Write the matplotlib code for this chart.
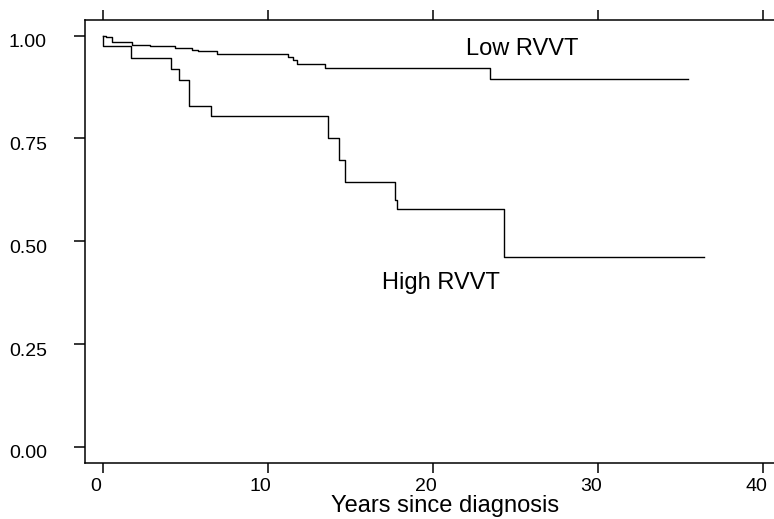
import matplotlib
matplotlib.use("Agg")
import matplotlib.pyplot as plt
import matplotlib.transforms as mtransforms

plt.rcParams['font.family'] = ['Liberation Sans', 'DejaVu Sans']

# Kaplan-Meier step data (years, survival)
low_time = [0, 0.2, 0.55, 1.76, 2.86, 4.38, 5.39, 5.77, 6.9, 11.2, 11.5, 11.75, 13.46, 23.46, 35.45]
low_surv = [1.0, 0.996, 0.985, 0.978, 0.974, 0.970, 0.966, 0.962, 0.956, 0.948, 0.940, 0.932, 0.921, 0.895, 0.895]

high_time = [0, 0.05, 1.70, 4.14, 4.64, 5.25, 6.54, 13.66, 14.33, 14.68, 17.70, 17.80, 24.30, 36.4]
high_surv = [1.0, 0.974, 0.946, 0.919, 0.891, 0.830, 0.804, 0.751, 0.698, 0.643, 0.600, 0.578, 0.463, 0.463]

x_ticks = [0, 10, 20, 30, 40]
y_ticks = [0.00, 0.25, 0.50, 0.75, 1.00]
y_tick_labels = ["0.00", "0.25", "0.50", "0.75", "1.00"]

fig = plt.figure(figsize=(7.74, 5.19), dpi=100)
ax = fig.add_axes([85 / 774, (519 - 463) / 519, 1 - 85 / 774, (463 - 20) / 519])

ax.step(low_time, low_surv, where='post', color='black', lw=1.0)
ax.step(high_time, high_surv, where='post', color='black', lw=1.0)

ax.set_xlim(-1.07, 40.66)
ax.set_ylim(-0.039, 1.038)

ax.spines['right'].set_visible(False)
for s in ['left', 'bottom', 'top']:
    ax.spines[s].set_linewidth(1.1)

ax.set_xticks(x_ticks)
ax.set_yticks(y_ticks)
ax.set_yticklabels(y_tick_labels)
ax.tick_params(axis='x', which='major', direction='out', length=7, width=1.1,
               labelsize=14, pad=3.5, top=True, labeltop=False)
ax.tick_params(axis='y', which='major', direction='out', length=8, width=1.1,
               labelsize=14, pad=19.5)

off_x = mtransforms.ScaledTranslation(-7 / 100, 0, fig.dpi_scale_trans)
for lab in ax.get_xticklabels():
    lab.set_transform(lab.get_transform() + off_x)
off_y = mtransforms.ScaledTranslation(0, -5 / 100, fig.dpi_scale_trans)
for lab in ax.get_yticklabels():
    lab.set_transform(lab.get_transform() + off_y)

ax.text(21.99, 0.954, "Low RVVT", fontsize=17, ha='left', va='baseline')
ax.text(16.9, 0.384, "High RVVT", fontsize=17, ha='left', va='baseline')

ax.set_xlabel("Years since diagnosis", fontsize=17)
ax.xaxis.label.set_va('baseline')
ax.xaxis.set_label_coords(0.522, -0.111)

fig.savefig("out.png", dpi=100)
